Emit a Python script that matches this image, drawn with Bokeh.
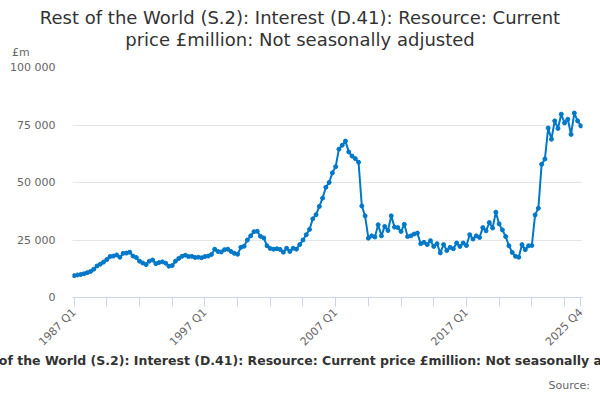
from bokeh.models import ColumnDataSource, Range1d, FixedTicker, Div
from bokeh.layouts import column
from bokeh.plotting import figure
from bokeh.embed import file_html
from bokeh.resources import INLINE
import math

# quarterly values, 1987 Q1 .. 2025 Q4 (£m)
years = list(range(1987, 2026))
quarters = ["%d Q%d" % (y, q) for y in years for q in range(1, 5)]
values = [
    9500, 9800, 10000, 10300, 10800, 11300, 12300, 13700, 14500, 15400,
    16500, 17800, 18000, 18500, 17500, 19200, 19300, 19700, 18000, 17400,
    15800, 15000, 14300, 15800, 16300, 14700, 15200, 15500, 14900, 13600,
    13900, 15800, 17000, 17900, 18400, 17800, 17900, 17400, 17500, 17300,
    17800, 18000, 18700, 21000, 20000, 19800, 20800, 21000, 20000, 19200,
    18800, 21800, 22300, 25000, 26800, 28600, 28800, 26600, 25900, 22500,
    21300, 21000, 21200, 20900, 19700, 21400, 20000, 21400, 21000, 23000,
    25000, 27300, 29600, 34200, 36000, 39600, 43200, 47900, 50000, 54200,
    56900, 64500, 66200, 68000, 63300, 61500, 60400, 58800, 39800, 35500,
    25800, 26800, 26300, 31600, 26800, 30900, 29100, 35500, 30600, 30400,
    28700, 31800, 26500, 26800, 27600, 28000, 23400, 24000, 23000, 24700,
    22200, 23400, 19400, 23000, 20400, 21800, 21200, 23700, 22200, 23700,
    22600, 27300, 25400, 26800, 26100, 30400, 29000, 32600, 30200, 37100,
    32000, 29400, 26500, 22500, 19600, 17900, 17500, 23000, 20800, 22500,
    22600, 35900, 38800, 57900, 60200, 73700, 68800, 76800, 73500, 79700,
    75900, 77500, 70900, 80200, 76800, 74600,
]
labelled = ["1987 Q1", "1997 Q1", "2007 Q1", "2017 Q1", "2025 Q4"]
y_ticks = [0, 25000, 50000, 75000, 100000]
y_tick_labels = ["0", "25 000", "50 000", "75 000", "100 000"]

title_lines = ["Rest of the World (S.2): Interest (D.41): Resource: Current",
               "price £million: Not seasonally adjusted"]
unit = "£m"
caption = "Rest of the World (S.2): Interest (D.41): Resource: Current price £million: Not seasonally adjusted"
source = "Source:"

FONT = "DejaVu Sans"
BLUE = "#0078c8"
W = 600


def txt(s, top, size, color, css):
    return ('<div style="position:absolute;top:%dpx;line-height:20px;font-family:\'%s\';'
            'font-size:%s;color:%s;white-space:nowrap;%s">%s</div>' % (top, FONT, size, color, css, s))


head_html = ('<div style="position:relative;width:%dpx;height:60px">' % W
             + txt(title_lines[0], 8, "18px", "#333333", "left:50%;transform:translateX(-50%)")
             + txt(title_lines[1], 30, "18px", "#333333", "left:50%;transform:translateX(-50%)")
             + txt(unit, 43, "11px", "#666666", "left:12px")
             + '</div>')
head = Div(text=head_html, width=W, height=60, margin=0)

idx = list(range(len(values)))
src = ColumnDataSource(dict(x=idx, y=values))

p = figure(width=W, height=296, output_backend="svg", toolbar_location=None,
           x_range=Range1d(-0.5, len(values) - 0.5), y_range=Range1d(0, 100000),
           min_border_left=72, min_border_right=18, min_border_top=7,
           min_border_bottom=58)
p.outline_line_color = None
p.xgrid.grid_line_color = None
p.ygrid.grid_line_color = "#e6e6e6"
p.ygrid.ticker = FixedTicker(ticks=y_ticks)

p.line("x", "y", source=src, line_color=BLUE, line_width=2)
p.scatter("x", "y", source=src, size=4, fill_color=BLUE, line_color=BLUE)

# x axis: a tick every 10 quarters, labels only on a few
xt = list(range(0, len(values), 10)) + [len(values) - 1]
p.xaxis.ticker = FixedTicker(ticks=xt)
p.xaxis.major_label_overrides = {
    t: (quarters[t] if quarters[t] in labelled else "") for t in xt}
p.xaxis.major_label_orientation = math.pi / 4
p.xaxis.axis_line_color = "#ccd6eb"
p.xaxis.major_tick_line_color = "#ccd6eb"
p.xaxis.major_tick_out = 9
p.xaxis.major_tick_in = 0
p.xaxis.minor_tick_line_color = None
p.xaxis.major_label_text_font = FONT
p.xaxis.major_label_text_font_size = "11px"
p.xaxis.major_label_text_color = "#666666"
p.xaxis.major_label_standoff = 4

p.yaxis.ticker = FixedTicker(ticks=y_ticks)
p.yaxis.major_label_overrides = dict(zip(y_ticks, y_tick_labels))
p.yaxis.axis_line_color = None
p.yaxis.major_tick_line_color = None
p.yaxis.minor_tick_line_color = None
p.yaxis.major_label_text_font = FONT
p.yaxis.major_label_text_font_size = "11px"
p.yaxis.major_label_text_color = "#666666"
p.yaxis.major_label_standoff = 11

foot_html = ('<div style="position:relative;width:%dpx;height:44px">' % W
             + txt(caption, -5, "12.5px", "#333333", "font-weight:bold;left:309px;transform:translateX(-50%)")
             + txt(source, 20, "11px", "#666666", "right:10px")
             + '</div>')
foot = Div(text=foot_html, width=W, height=44, margin=0)

page = column(head, p, foot, spacing=0)
open("out.html", "w").write(file_html(page, INLINE))
